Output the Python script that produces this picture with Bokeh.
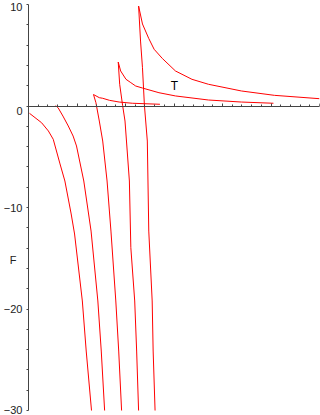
from bokeh.plotting import figure
from bokeh.models import (LinearAxis, SingleIntervalTicker, FixedTicker, Range1d, Label,
                          CustomJSTickFormatter)
from bokeh.embed import file_html
from bokeh.resources import INLINE

# ---- data ----
curve_a_T = [0.02, 0.27, 0.41, 0.51, 0.65, 0.75, 0.88, 0.95, 1.11, 1.19, 1.30]
curve_a_F = [-0.72, -1.65, -2.46, -3.28, -5.71, -7.39, -10.64, -12.61, -19.21, -24.14, -30.05]

curve_b_T = [0.56, 0.61, 0.71, 0.82, 0.92, 0.99, 1.14, 1.29, 1.43, 1.50, 1.57]
curve_b_F = [0.03, -0.17, -0.99, -1.97, -2.96, -3.94, -7.39, -12.32, -19.21, -24.14, -30.05]

curve_c_T = [2.71, 2.14, 1.87, 1.67, 1.53, 1.46, 1.34, 1.39, 1.46, 1.53, 1.62, 1.70, 1.80, 1.86, 1.92]
curve_c_F = [0.17, 0.27, 0.39, 0.56, 0.76, 0.82, 1.13, 0.33, -1.48, -3.45, -7.39, -12.32, -19.21, -24.14, -30.05]

curve_d_T = [5.05, 4.39, 3.71, 3.03, 2.69, 2.35, 2.21, 2.11, 2.01, 1.90, 1.85,
             1.88, 1.94, 1.99, 2.02, 2.08, 2.11, 2.19, 2.23, 2.27]
curve_d_F = [0.27, 0.39, 0.59, 0.99, 1.31, 1.77, 1.97, 2.30, 2.63, 3.45, 4.33,
             2.14, 0.07, -1.48, -3.45, -7.39, -13.96, -19.21, -24.14, -30.05]

curve_e_T = [6.0, 5.07, 4.39, 3.71, 3.37, 3.03, 2.76, 2.59, 2.48, 2.35, 2.27,
             2.31, 2.35, 2.39, 2.45, 2.48, 2.55, 2.57, 2.61]
curve_e_F = [0.72, 1.05, 1.48, 2.14, 2.63, 3.45, 4.68, 5.59, 6.65, 8.08, 9.85,
             6.40, 3.77, 0.07, -3.45, -12.32, -19.21, -24.14, -30.05]

# y-axis tick marks (every 2 units) and label positions/texts
y_tick_marks = list(range(-30, 11, 2))
y_label_pos = [10, -0.49, -10, -15.17, -20, -30]
y_label_text = ["10", "0", "\u221210", "F\u00a0\u00a0", "\u221220", "\u221230"]

FONT = "Liberation Sans"
AXIS_COLOR = "#444444"
CURVE_COLOR = "#ff0000"

p = figure(width=320, height=415, output_backend="svg", toolbar_location=None,
           x_range=Range1d(0, 6), y_range=Range1d(-30, 10),
           x_axis_location=None, y_axis_location=None,
           min_border_left=25, min_border_right=1, min_border_top=4,
           min_border_bottom=5)
p.outline_line_color = None
p.xgrid.grid_line_color = None
p.ygrid.grid_line_color = None
p.background_fill_color = "white"
p.border_fill_color = "white"

# y axis at T = 0 (left edge); tick marks drawn as "minor" ticks,
# label positions given as "major" ticks (no mark)
yaxis = LinearAxis(ticker=FixedTicker(ticks=y_label_pos, minor_ticks=y_tick_marks),
                   major_label_overrides=dict(zip(y_label_pos, y_label_text)),
                   axis_line_color=AXIS_COLOR, major_tick_line_color=None,
                   minor_tick_line_color=AXIS_COLOR,
                   major_tick_out=2, major_tick_in=0,
                   minor_tick_out=2, minor_tick_in=0,
                   major_label_standoff=4,
                   major_label_text_font=FONT,
                   major_label_text_font_size="11px",
                   major_label_text_color="#222222")
p.add_layout(yaxis, "left")

# x axis crossing at F = 0
xaxis = LinearAxis(fixed_location=0,
                   ticker=SingleIntervalTicker(interval=1, num_minor_ticks=5),
                   formatter=CustomJSTickFormatter(code="return ''"),
                   axis_line_color=AXIS_COLOR, major_tick_line_color=AXIS_COLOR,
                   minor_tick_line_color=AXIS_COLOR,
                   major_tick_in=3, major_tick_out=0,
                   minor_tick_in=2, minor_tick_out=0,
                   major_label_standoff=0,
                   major_label_text_font_size="0px")
p.add_layout(xaxis, "below")

for ts, fs in [(curve_a_T, curve_a_F), (curve_b_T, curve_b_F), (curve_c_T, curve_c_F),
               (curve_d_T, curve_d_F), (curve_e_T, curve_e_F)]:
    p.line(ts, fs, line_color=CURVE_COLOR, line_width=1)

# axis name T (inside the plot area)
p.add_layout(Label(x=3.01, y=1.95, text="T", text_align="center", text_baseline="middle",
                   text_font=FONT, text_font_size="12px", text_color="black"))

html = file_html(p, INLINE)
html = html.replace("</head>", "<style>html,body{margin:0;padding:0;overflow:hidden}</style></head>", 1)
open("out.html", "w").write(html)
